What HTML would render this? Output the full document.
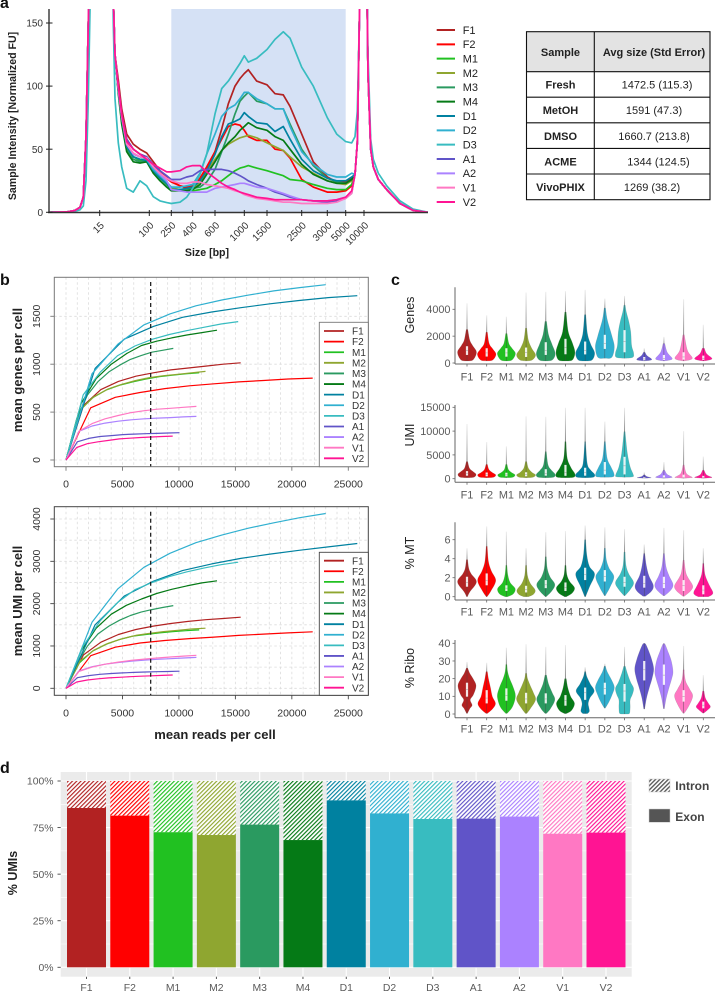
<!DOCTYPE html>
<html lang="en">
<head>
<meta charset="utf-8">
<title>Sample quality panels</title>
<style>
html,body{margin:0;padding:0;background:#fff;}
svg{display:block;position:absolute;left:0;top:0;font-family:"Liberation Sans",Arial,sans-serif;}
</style>
</head>
<body>
<svg id="figure" xmlns="http://www.w3.org/2000/svg" width="715" height="992" viewBox="0 0 715 992">
  <defs id="defs">
    <clipPath id="clip-a"><rect x="49" y="9" width="379" height="204"></rect></clipPath>
    <linearGradient id="tail-fade" x1="0" y1="1" x2="0" y2="0">
      <stop offset="0" stop-color="#858585"></stop>
      <stop offset="0.5" stop-color="#bdbdbd"></stop>
      <stop offset="1" stop-color="#ececec"></stop>
    </linearGradient>
  </defs>
  <text x="0" y="8" font-size="16" font-weight="bold" fill="#111">a</text>
  <text x="0" y="285" font-size="16" font-weight="bold" fill="#111">b</text>
  <text x="391" y="285" font-size="16" font-weight="bold" fill="#111">c</text>
  <text x="0" y="773" font-size="16" font-weight="bold" fill="#111">d</text>

  <g font-size="11" fill="#222">
    <rect x="526.5" y="31.7" width="183.5" height="40" fill="#e3e3e3"></rect>
    <rect x="526.5" y="31.7" width="183.5" height="168" fill="none" stroke="#111" stroke-width="1.1"></rect>
    <line x1="594.3" y1="31.7" x2="594.3" y2="199.7" stroke="#111" stroke-width="1.1"></line>
    <line x1="526.5" y1="71.7" x2="710" y2="71.7" stroke="#111" stroke-width="1.1"></line>
    <line x1="526.5" y1="97.2" x2="710" y2="97.2" stroke="#111" stroke-width="1.1"></line>
    <line x1="526.5" y1="122.8" x2="710" y2="122.8" stroke="#111" stroke-width="1.1"></line>
    <line x1="526.5" y1="148.4" x2="710" y2="148.4" stroke="#111" stroke-width="1.1"></line>
    <line x1="526.5" y1="174" x2="710" y2="174" stroke="#111" stroke-width="1.1"></line>
    <text x="560.5" y="56" text-anchor="middle" font-weight="bold">Sample</text>
    <text x="654" y="56" text-anchor="middle" font-weight="bold">Avg size (Std Error)</text>
    <text x="560.5" y="88.5" text-anchor="middle" font-weight="bold">Fresh</text>
    <text x="657" y="88.5" text-anchor="middle">1472.5 (115.3)</text>
    <text x="560.5" y="114" text-anchor="middle" font-weight="bold">MetOH</text>
    <text x="654" y="114" text-anchor="middle">1591 (47.3)</text>
    <text x="560.5" y="140" text-anchor="middle" font-weight="bold">DMSO</text>
    <text x="654" y="140" text-anchor="middle">1660.7 (213.8)</text>
    <text x="560.5" y="165.5" text-anchor="middle" font-weight="bold">ACME</text>
    <text x="658.5" y="165.5" text-anchor="middle">1344 (124.5)</text>
    <text x="560.5" y="191" text-anchor="middle" font-weight="bold">VivoPHIX</text>
    <text x="652" y="191" text-anchor="middle">1269 (38.2)</text>
  </g>
</svg>
<script>
/* ---------- shared categories ---------- */
const sampleNames = ['F1','F2','M1','M2','M3','M4','D1','D2','D3','A1','A2','V1','V2'];
const sampleColors = ['#b22222','#ff0000','#21c121','#8fa630','#2a9a60','#057a16','#0081a0','#30b0d0','#38bcc0','#6054c8','#ab82ff','#ff78c3','#ff1493'];

/* ---------- panel a: electropherogram (migration time vs normalized FU) ---------- */
const traceLeftTimes = [0,17.7,26,31,34.3,37,39.3,41.7,62.7,64.3,66];
const traceMidTimes = [69.3,72.7,77.7,84.3,91,97.7,104.3,111,117.7,122.3,131,137.7,143.7,151,157.7,166,172.7,179.3,186,191,195.3,199.3,207.7,218,226,234.3,241,252.7,264.3,278.3,287.7,296.7,302.7];
const traceRightTimes = [306,308.3,310.3,312.7,317,319,321.7,324.3,329.3,337.7,351,364,379];
const lowerMarker = [0,0.3,1.5,4,12,60,150,240,240,170,125];
const lowerMarkerD3 = [0,0.2,0.8,2,5,25,90,190,240,150,90];
const upperMarker = [30,55,150,240,240,110,50,36,26,18,7,1.5,0];
const upperMarkerD3 = [60,80,150,240,240,125,58,42,31,21,9,2.5,0];
const traceF1 = [105,82,62,54,50,47,40,33,28,25,21,19,20,26,34,48,66,86,100,106,110,113,104,101,94,93,84,62,40,28,24,24,27];
const traceF2 = [100,78,58,50,46,44,37,31,27,24,21,20,21,27,36,48,58,68,70,69,65,60,57,57,50,49,43,26,20,16,16,17,21];
const traceM1 = [96,74,52,44,41,40,33,27,22,19,18,17,17,18,19,22,25,29,33,35,36,37,35,33,31,29,26,25,22,19,18,18,22];
const traceM2 = [96,74,52,44,42,41,34,28,23,19,18,18,19,24,32,42,49,54,57,59,60,61,59,55,52,49,44,36,31,25,23,22,25];
const traceM3 = [96,72,50,42,40,40,33,27,22,18,18,18,19,20,24,34,48,62,78,88,92,95,88,86,82,82,70,50,37,27,24,23,26];
const traceM4 = [94,70,48,40,39,40,31,25,20,17,17,17,18,22,30,40,49,55,60,65,68,71,67,65,60,57,50,38,30,25,23,23,26];
const traceD1 = [96,74,52,44,42,41,33,27,23,18,18,19,20,25,33,46,60,70,72,74,79,76,71,70,64,68,58,42,33,27,25,25,28];
const traceD2 = [98,76,54,46,44,42,34,29,24,20,20,21,22,31,46,62,76,82,85,90,95,95,90,86,82,82,68,48,38,30,28,28,31];
const traceD3 = [55,36,19,16,25,21,12.4,9,7.7,7,8,12,19,30,46,78,98,104,112,118,124,119,122,129,137,143,138,115,100,75,62,56,55];
const traceA1 = [100,78,58,50,46,44,38,33,29,26,26,28,29,33,34,34,34,33,31,29,27,25,22,19,16,14,12,10,9,8,9,11,15];
const traceA2 = [98,76,54,46,44,43,36,30,25,18,17,16,16,16,16,19,20,21,22,23,23,22,20,19,17,15,13,10,9,9,10,12,16];
const traceV1 = [98,76,54,47,44,43,36,31,27,25,23,23,24,24,22,21,20,19,17,16,14,13,11,10,9,8,8,7,7,7,8,11,15];
const traceV2 = [100,78,56,50,46,42,38,35,32,32,33,36,37,37,32,27,23,20,18,16,15,14,12,11,10,10,10,10,9,9,10,12,17];
const traceSeries = [traceF1,traceF2,traceM1,traceM2,traceM3,traceM4,traceD1,traceD2,traceD3,traceA1,traceA2,traceV1,traceV2];
const sizeTickLabels = ['15','100','250','400','600','1000','1500','2500','3000','5000','10000'];
const sizeTickTimes = [50.7,100.3,122.3,143.7,166,195.3,218,252.7,278.3,296.7,315];
const intensityTicks = [0,50,100,150];
const regionStartTime = 122.3;
const regionEndTime = 296.7;

/* ---------- panel b: saturation curves ---------- */
const readFractions = [0,0.1,0.2,0.3,0.4,0.5,0.6,0.7,0.8,0.9,1];
const maxReads = [15470,21850,11800,12350,9500,13370,25800,23000,15250,10050,11550,11550,9450];
const genesCurves = [
 [0,570,735,820,875,910,940,960,980,1000,1015],
 [0,545,655,705,745,775,795,815,830,845,855],
 [0,510,650,730,780,815,845,870,885,900,910],
 [0,520,660,740,790,830,860,880,895,910,925],
 [0,430,680,820,920,990,1050,1090,1125,1145,1165],
 [0,590,850,1000,1110,1195,1240,1275,1305,1330,1355],
 [0,956,1262,1395,1490,1545,1590,1630,1665,1695,1715],
 [0,900,1210,1410,1525,1610,1670,1720,1765,1800,1830],
 [0,680,920,1090,1190,1260,1310,1350,1385,1420,1445],
 [0,190,225,245,255,265,270,275,278,282,285],
 [0,300,355,385,405,420,430,437,443,450,455],
 [0,300,380,430,465,495,515,530,540,550,560],
 [0,130,170,190,205,220,228,235,240,245,250]
];
const umiCurves = [
 [0,790,1090,1270,1390,1470,1530,1580,1620,1650,1680],
 [0,770,970,1070,1130,1175,1210,1250,1280,1310,1335],
 [0,600,880,1040,1150,1230,1270,1310,1340,1360,1380],
 [0,640,900,1060,1170,1250,1300,1340,1370,1400,1420],
 [0,560,1000,1290,1470,1610,1720,1800,1860,1910,1955],
 [0,880,1420,1750,1960,2110,2240,2340,2420,2490,2540],
 [0,1500,2180,2530,2780,2940,3070,3170,3260,3340,3420],
 [0,1560,2350,2860,3190,3440,3620,3780,3910,4030,4130],
 [0,1000,1600,2030,2330,2500,2640,2750,2840,2920,2980],
 [0,250,300,330,350,365,375,385,392,398,405],
 [0,410,510,570,610,640,665,685,700,715,730],
 [0,400,500,570,620,660,690,715,740,760,780],
 [0,150,195,225,245,260,275,285,295,305,315]
];
const readsTicks = [0,5000,10000,15000,20000,25000];
const genesTicks = [0,500,1000,1500];
const umiTicks = [0,1000,2000,3000,4000];
const targetReads = 7500;

/* ---------- panel c: violins, body = [value, density] levels ---------- */
const genesBody = [
 [[150,0],[230,.6],[800,1],[1300,.55],[1700,.25],[2500,.06]],
 [[150,0],[220,.6],[650,.98],[1050,.6],[1450,.22],[2300,.05]],
 [[150,0],[220,.55],[700,.95],[1100,.55],[1450,.22],[2200,.05]],
 [[150,0],[220,.6],[600,1],[1100,.55],[1700,.2],[2600,.05]],
 [[150,0],[220,.65],[700,1],[1400,.62],[2100,.25],[3100,.06]],
 [[150,0],[220,.7],[800,1],[1500,.7],[2350,.25],[3800,.05]],
 [[150,0],[220,.7],[750,1],[1400,.55],[2200,.2],[3600,.05]],
 [[350,0],[420,.7],[1200,1],[2000,.72],[3200,.22],[4100,.05]],
 [[350,0],[420,.85],[750,.95],[1300,.72],[2300,.62],[3100,.4],[3800,.15],[4300,.05]],
 [[150,0],[200,.6],[300,.75],[550,.25],[800,.06]],
 [[150,0],[220,.6],[350,.85],[800,.3],[1450,.06]],
 [[150,0],[230,.6],[400,.9],[950,.35],[2100,.05]],
 [[150,0],[220,.6],[350,.9],[700,.3],[1100,.08]]
];
const genesTop = [4450,3550,3450,5250,5300,5350,5450,4800,5000,1100,1950,4750,2850];
const genesBox = [[600,950,1250],[480,750,1100],[470,750,1100],[450,800,1150],[600,950,1550],[650,1150,1800],[640,950,1600],[1050,1450,2100],[800,1600,2450],[200,300,450],[230,350,600],[250,450,800],[230,350,550]];

const umiBody = [
 [[200,0],[300,.7],[900,.95],[1500,.6],[2200,.22],[3600,.05]],
 [[200,0],[300,.7],[800,.95],[1300,.55],[1900,.2],[3000,.05]],
 [[200,0],[300,.65],[800,.9],[1300,.5],[1900,.18],[3000,.05]],
 [[200,0],[300,.7],[800,1],[1300,.6],[2200,.2],[3600,.05]],
 [[200,0],[300,.8],[900,1],[1800,.55],[2900,.2],[5700,.04]],
 [[200,0],[300,.85],[1000,1],[2300,.55],[4300,.15],[7800,.04]],
 [[200,0],[300,.85],[900,1],[1900,.5],[3200,.18],[7800,.03]],
 [[300,0],[400,.85],[1100,.95],[2500,.6],[4300,.2],[7800,.04]],
 [[300,0],[400,.85],[900,.9],[2500,.55],[5400,.25],[9900,.04]],
 [[100,0],[150,.4],[200,.7],[500,.2],[800,.05]],
 [[100,0],[180,.6],[350,.85],[900,.3],[1800,.05]],
 [[100,0],[180,.6],[300,.9],[1100,.25],[2900,.04]],
 [[100,0],[180,.6],[300,.9],[800,.3],[1800,.05]]
];
const umiTop = [11500,7700,6800,13100,13000,14900,14900,12000,14900,1350,3500,10000,4650];
const umiBox = [[630,1100,1600],[500,850,1300],[500,800,1250],[500,900,1350],[630,1100,2000],[600,1300,2900],[630,1300,2300],[900,1800,3500],[900,2700,4600],[100,200,350],[150,300,700],[150,300,850],[130,250,600]];

const mtBody = [
 [[0,.03],[.5,.25],[1.55,1],[2.4,.4],[3,.15],[3.9,.05]],
 [[0,.03],[.6,.4],[1.7,.95],[2.7,.45],[3.7,.15],[5.3,.04]],
 [[0,.1],[.3,.7],[.85,.92],[1.5,.35],[2.3,.12],[3.3,.04]],
 [[0,.2],[.25,.75],[.7,.95],[1.4,.4],[2.2,.12],[3.3,.04]],
 [[0,.03],[.6,.6],[1.3,.95],[2.1,.4],[3,.12],[4.2,.04]],
 [[0,.08],[.4,.7],[.95,.95],[1.6,.4],[2.3,.12],[3.3,.04]],
 [[0,.03],[1,.4],[2.35,1],[3.2,.4],[4.4,.14],[6,.04]],
 [[.1,.03],[1,.5],[2.1,.95],[3,.4],[3.9,.12],[5.1,.04]],
 [[.1,.03],[.8,.6],[1.5,.95],[2.4,.4],[3.3,.12],[4.7,.04]],
 [[.05,.1],[.6,.75],[1.2,.95],[2.2,.45],[3.3,.18],[4.55,.04]],
 [[.1,.05],[.7,.7],[1.3,.95],[2.2,.5],[3.15,.18],[4.55,.04]],
 [[.05,.05],[.6,.7],[1.15,.95],[2,.42],[2.6,.18],[3.85,.04]],
 [[0,.5],[.2,.9],[.5,1],[1.2,.6],[2.3,.15],[3.5,.04]]
];
const mtTop = [5.1,7.4,6.85,5.1,6.8,6.9,7.5,7.3,7.1,5.5,7.25,7,5.1];
const mtBox = [[1.05,1.5,2.1],[1.2,1.7,2.45],[.6,.9,1.2],[.45,.75,1.15],[.9,1.25,1.75],[.6,.95,1.5],[1.75,2.35,3.05],[1.6,2.1,2.8],[1.05,1.5,2.1],[.95,1.4,2.2],[.9,1.4,2.1],[.6,1.15,1.75],[.25,.7,1.2]];

const riboBody = [
 [[.3,.03],[3,.25],[5,.5],[8,.3],[11,.65],[16,.95],[20,.6],[23,.25],[26,.05]],
 [[.3,.05],[3,.6],[6,.92],[10,.55],[15,.35],[20,.15],[24,.05]],
 [[.3,.05],[4,.6],[10,.95],[15,.7],[20,.3],[24,.1],[28,.04]],
 [[.3,.05],[3,.4],[8,1],[12,.75],[16,.4],[20,.12],[23,.05]],
 [[.3,.05],[3,.45],[8,.95],[12,.65],[17,.25],[22,.06]],
 [[.2,.05],[2,.6],[6,.95],[10,.5],[15,.2],[20,.06]],
 [[.2,.2],[1.5,.4],[3.5,.35],[6,.28],[9,.45],[13,.95],[17,.5],[21,.15],[24,.04]],
 [[3.3,.03],[7,.4],[11,.75],[15,1],[19,.7],[24,.2],[27,.05]],
 [[0,.3],[.6,.5],[4,.55],[8,.55],[11,.8],[14.5,.95],[18,.6],[23,.25],[27,.06]],
 [[2.8,.03],[9,.2],[15,.5],[20,.8],[25.5,1],[31,.75],[36,.4],[39.5,.12],[40,0]],
 [[3,.03],[9,.2],[15,.5],[20,.8],[24,.95],[30,.75],[35,.4],[39,.12],[40,0]],
 [[.4,.04],[4,.45],[10,.95],[14,.6],[18,.2],[22,.07],[25,.04]],
 [[.5,.03],[2,.35],[4,.72],[6,.5],[9,.18],[13,.05]]
];
const riboTop = [29.5,29,37.5,39.5,38,39,26.5,28.5,38,40,40,38.5,22];
const riboBox = [[9.8,14,17.7],[6,9,13.5],[7.5,10.5,14.5],[6,8.5,12],[6,8.5,11.7],[4.7,7.5,10.7],[8,12,15],[11,14.5,17.7],[7,13,17],[19,25,30],[16.5,22,28],[7,10,13.5],[3.2,5,7]];

const genesAxisTicks = [0,2000,4000];
const umiAxisTicks = [0,5000,10000,15000];
const mtAxisTicks = [0,2,4,6];
const riboAxisTicks = [0,10,20,30,40];

/* ---------- panel d: stacked bars ---------- */
const exonPercent = [85.5,81.4,72.5,71,76.6,68.3,89.6,82.6,79.6,79.8,80.9,71.7,72.3];
const percentTicks = [0,25,50,75,100];

/* ---------- helpers ---------- */
const NS = 'http://www.w3.org/2000/svg';
const figure = document.getElementById('figure');
const defs = document.getElementById('defs');

function mk(parent, tag, attrs) {
  const el = document.createElementNS(NS, tag);
  for (const k in attrs) el.setAttribute(k, attrs[k]);
  parent.appendChild(el);
  return el;
}
function tag(el, label) {
  
  
  return el;
}
function group(parent, label) {
  return tag(mk(parent, 'g', {}), label);
}
function txt(parent, str, x, y, opt, label) {
  const a = {x: x, y: y, 'font-size': opt.size, fill: opt.fill || '#333', 'text-anchor': opt.anchor || 'start'};
  if (opt.weight) a['font-weight'] = opt.weight;
  if (opt.rotate !== undefined) a.transform = 'rotate(' + opt.rotate + ' ' + x + ' ' + y + ')';
  const el = mk(parent, 'text', a);
  el.textContent = str;
  return tag(el, label);
}
function seg(parent, x1, y1, x2, y2, stroke, width, label, dash) {
  const a = {x1: x1, y1: y1, x2: x2, y2: y2, stroke: stroke, 'stroke-width': width};
  if (dash) a['stroke-dasharray'] = dash;
  return tag(mk(parent, 'line', a), label);
}
function linear(d0, r0, d1, r1) {
  return function (v) { return r0 + (v - d0) * (r1 - r0) / (d1 - d0); };
}

/* ---------- panel a ---------- */
(function () {
  const g = group(figure, 'panel-a-electropherogram');
  const xTime = linear(0, 49, 379, 428);
  const yFU = linear(0, 212.3, 150, 23);
  tag(mk(g, 'rect', {x: xTime(regionStartTime), y: 9, width: xTime(regionEndTime) - xTime(regionStartTime), height: 203.5, fill: '#d5e1f5'}), 'size-range-highlight');
  const lines = group(g, 'traces');
  lines.setAttribute('clip-path', 'url(#clip-a)');
  const times = traceLeftTimes.concat(traceMidTimes, traceRightTimes);
  traceSeries.forEach(function (mid, i) {
    const isD3 = sampleNames[i] === 'D3';
    const vals = (isD3 ? lowerMarkerD3 : lowerMarker).concat(mid, isD3 ? upperMarkerD3 : upperMarker);
    const pts = times.map(function (t, k) { return xTime(t).toFixed(1) + ',' + yFU(vals[k]).toFixed(1); }).join(' ');
    const line = mk(lines, 'polyline', {points: pts, fill: 'none', stroke: sampleColors[i], 'stroke-width': 1.7, 'stroke-linejoin': 'round'});
    
    
  });
  seg(g, 49, 9, 49, 213, '#333', 1.4, 'y-axis-line');
  seg(g, 48, 212.5, 428, 212.5, '#333', 1.6, 'x-axis-line');
  intensityTicks.forEach(function (v) {
    seg(g, 46, yFU(v), 52.5, yFU(v), '#222', 1, 'y-tick');
    txt(g, String(v), 43, yFU(v) + 3.6, {size: 10, anchor: 'end', fill: '#333'}, 'y-tick-label');
  });
  sizeTickLabels.forEach(function (lab, i) {
    const x = xTime(sizeTickTimes[i]);
    seg(g, x, 210, x, 216, '#222', 1, 'x-tick');
    txt(g, lab, x + 5, 226, {size: 10, anchor: 'end', rotate: -45, fill: '#333'}, 'x-tick-label');
  });
  txt(g, 'Sample Intensity [Normalized FU]', 16, 116, {size: 10.6, anchor: 'middle', rotate: -90, weight: 'bold', fill: '#222'}, 'y-axis-title');
  txt(g, 'Size [bp]', 207, 256, {size: 10.6, anchor: 'middle', weight: 'bold', fill: '#222'}, 'x-axis-title');
  const leg = group(g, 'legend-a');
  const yLegend = linear(0, 30, 12, 202);
  sampleNames.forEach(function (n, i) {
    const y = yLegend(i);
    const e = group(leg, 'legend-entry-' + n);
    seg(e, 436.7, y, 455, y, sampleColors[i], 2, 'legend-line');
    txt(e, n, 462.7, y + 3.9, {size: 11, fill: '#222'}, 'legend-label');
  });
})();

/* ---------- panel b ---------- */
function saturationPanel(cfg) {
  const g = group(figure, cfg.name);
  const xReads = linear(0, 66, 25000, 348.3);
  const yVal = cfg.y;
  const L = 54.3, R = 368.3;
  for (let r = 0; r <= 27000; r += 1000) {
    if (xReads(r) < R) seg(g, xReads(r), cfg.top, xReads(r), cfg.bottom, '#dcdcdc', 0.8, 'vertical-gridline', '2.5 2.5');
  }
  cfg.grid.forEach(function (v) {
    seg(g, L, yVal(v), R, yVal(v), '#dcdcdc', 0.8, 'horizontal-gridline', '2.5 2.5');
  });
  cfg.curves.forEach(function (curve, i) {
    const pts = curve.map(function (v, k) {
      return xReads(readFractions[k] * maxReads[i]).toFixed(1) + ',' + yVal(v).toFixed(1);
    }).join(' ');
    const line = mk(g, 'polyline', {points: pts, fill: 'none', stroke: sampleColors[i], 'stroke-width': 1.2, 'stroke-linejoin': 'round'});
    
    
  });
  seg(g, xReads(targetReads), cfg.dashTop, xReads(targetReads), cfg.bottom, '#111', 1.2, 'target-depth-line', '4 3');
  tag(mk(g, 'rect', {x: L, y: cfg.top, width: R - L, height: cfg.bottom - cfg.top, fill: 'none', stroke: cfg.frame, 'stroke-width': 1}), 'plot-frame');
  readsTicks.forEach(function (v) {
    seg(g, xReads(v), cfg.bottom, xReads(v), cfg.bottom + 4, cfg.frame, 0.9, 'x-tick');
    txt(g, String(v), xReads(v), cfg.bottom + 21, {size: 10.5, anchor: 'middle'}, 'x-tick-label');
  });
  cfg.ticks.forEach(function (v) {
    seg(g, L - 4, yVal(v), L, yVal(v), cfg.frame, 0.9, 'y-tick');
    txt(g, String(v), 40, yVal(v), {size: 10.5, anchor: 'middle', rotate: -90}, 'y-tick-label');
  });
  txt(g, cfg.title, 22, cfg.titleY, {size: 13, anchor: 'middle', rotate: -90, weight: 'bold', fill: '#222'}, 'y-axis-title');
  const leg = group(g, 'legend-b');
  tag(mk(leg, 'rect', {x: 319.3, y: cfg.legendTop, width: R - 319.3, height: cfg.bottom - cfg.legendTop, fill: '#fff', stroke: cfg.frame, 'stroke-width': 0.9}), 'legend-box');
  const yLegend = linear(0, cfg.legendFirst, 12, cfg.legendLast);
  sampleNames.forEach(function (n, i) {
    const y = yLegend(i);
    const e = group(leg, 'legend-entry-' + n);
    seg(e, 324, y, 344, y, sampleColors[i], 1.8, 'legend-line');
    txt(e, n, 352, y + 3.6, {size: 10, fill: '#333'}, 'legend-label');
  });
}
saturationPanel({name: 'panel-b-genes', curves: genesCurves, y: linear(0, 460, 1500, 316.3), ticks: genesTicks, grid: genesTicks,
  top: 277.3, bottom: 466.7, dashTop: 282, frame: '#777', title: 'mean genes per cell', titleY: 370,
  legendTop: 322.3, legendFirst: 331, legendLast: 458.3});
saturationPanel({name: 'panel-b-umi', curves: umiCurves, y: linear(0, 688.3, 4000, 519), ticks: umiTicks, grid: [0,500,1000,1500,2000,2500,3000,3500,4000],
  top: 506.7, bottom: 695.3, dashTop: 511.7, frame: '#444', title: 'mean UMI per cell', titleY: 601,
  legendTop: 552.3, legendFirst: 560.7, legendLast: 687.7});
txt(figure, 'mean reads per cell', 215, 739, {size: 13, anchor: 'middle', weight: 'bold', fill: '#222'}, 'x-axis-title');

/* ---------- panel c ---------- */
function smoothSide(pts) {
  let d = '';
  for (let i = 0; i < pts.length - 1; i++) {
    const p0 = pts[Math.max(i - 1, 0)], p1 = pts[i], p2 = pts[i + 1], p3 = pts[Math.min(i + 2, pts.length - 1)];
    const c1x = p1[0] + (p2[0] - p0[0]) / 6, c1y = p1[1] + (p2[1] - p0[1]) / 6;
    const c2x = p2[0] - (p3[0] - p1[0]) / 6, c2y = p2[1] - (p3[1] - p1[1]) / 6;
    d += 'C' + c1x.toFixed(2) + ' ' + c1y.toFixed(2) + ' ' + c2x.toFixed(2) + ' ' + c2y.toFixed(2) + ' ' + p2[0].toFixed(2) + ' ' + p2[1].toFixed(2);
  }
  return d;
}
function violinRow(cfg) {
  const g = group(figure, cfg.name);
  const xCat = linear(0, 467, 12, 703.3);
  const yVal = cfg.y;
  const halfWidth = function (density) { return 9.5 * Math.pow(Math.max(density, 0), 0.88); };
  sampleNames.forEach(function (n, i) {
    const v = group(g, 'violin-' + n);
    const cx = xCat(i);
    const body = cfg.body[i];
    const neck = body[body.length - 1][0];
    const top = cfg.top[i];
    if (top > neck) {
      tag(mk(v, 'rect', {x: cx - 0.5, y: yVal(top), width: 1, height: yVal(neck) - yVal(top) + 1, fill: 'url(#tail-fade)'}), 'violin-tail');
    }
    const right = body.map(function (b) { return [cx + halfWidth(b[1]), yVal(b[0])]; });
    const left = body.map(function (b) { return [cx - halfWidth(b[1]), yVal(b[0])]; }).reverse();
    const d = 'M' + right[0][0].toFixed(2) + ' ' + right[0][1].toFixed(2) + smoothSide(right) +
      'L' + left[0][0].toFixed(2) + ' ' + left[0][1].toFixed(2) + smoothSide(left) + 'Z';
    tag(mk(v, 'path', {d: d, fill: sampleColors[i], stroke: '#777', 'stroke-width': 0.3, 'stroke-opacity': 0.6}), 'violin-body');
    seg(v, cx, yVal(neck), cx, yVal(body[0][0]), '#444', 0.4, 'violin-center-line');
    const box = cfg.box[i];
    tag(mk(v, 'rect', {x: cx - 1.1, y: yVal(box[2]), width: 2.2, height: yVal(box[0]) - yVal(box[2]), fill: '#fff', 'fill-opacity': 0.88}), 'violin-box');
    seg(v, cx - 1.1, yVal(box[1]), cx + 1.1, yVal(box[1]), '#999', 0.5, 'violin-median');
  });
  seg(g, 455, cfg.axisTop, 455, cfg.axisBottom, '#666', 1, 'y-axis-line');
  seg(g, 455, cfg.axisBottom, 715, cfg.axisBottom, '#666', 1, 'x-axis-line');
  cfg.ticks.forEach(function (v) {
    seg(g, 452.5, yVal(v), 455, yVal(v), '#666', 0.8, 'y-tick');
    txt(g, String(v), 450.5, yVal(v) + 3.9, {size: 10.9, anchor: 'end', fill: '#5a5a5a'}, 'y-tick-label');
  });
  sampleNames.forEach(function (n, i) {
    seg(g, xCat(i), cfg.axisBottom, xCat(i), cfg.axisBottom + 2.5, '#666', 0.8, 'x-tick');
    txt(g, n, xCat(i), cfg.labelBase, {size: 10.9, anchor: 'middle', fill: '#5a5a5a'}, 'x-tick-label');
  });
  txt(g, cfg.title, 414, cfg.titleY, {size: 12.5, anchor: 'middle', rotate: -90, fill: '#222'}, 'y-axis-title');
}
violinRow({name: 'panel-c-genes', body: genesBody, top: genesTop, box: genesBox, y: linear(0, 363, 4000, 309.3), ticks: genesAxisTicks,
  axisTop: 287.3, axisBottom: 364, labelBase: 380.5, title: 'Genes', titleY: 315});
violinRow({name: 'panel-c-umi', body: umiBody, top: umiTop, box: umiBox, y: linear(0, 478.7, 15000, 407.3), ticks: umiAxisTicks,
  axisTop: 405, axisBottom: 482.3, labelBase: 498.5, title: 'UMI', titleY: 435});
violinRow({name: 'panel-c-mt', body: mtBody, top: mtTop, box: mtBox, y: linear(0, 596.7, 6, 539.7), ticks: mtAxisTicks,
  axisTop: 522.3, axisBottom: 600, labelBase: 615.5, title: '% MT', titleY: 553});
violinRow({name: 'panel-c-ribo', body: riboBody, top: riboTop, box: riboBox, y: linear(0, 714, 40, 643.3), ticks: riboAxisTicks,
  axisTop: 640, axisBottom: 717.7, labelBase: 732.7, title: '% Ribo', titleY: 668});

/* ---------- panel d ---------- */
(function () {
  const g = group(figure, 'panel-d-exon-intron');
  const xBar = linear(0, 86.5, 12, 606);
  const yPct = linear(0, 967.3, 100, 781);
  const barW = 39;
  tag(mk(g, 'rect', {x: 60.7, y: 772, width: 571, height: 204.7, fill: '#ebebeb'}), 'plot-panel-background');
  for (let p = -12.5; p <= 112.5; p += 12.5) {
    const major = p % 25 === 0;
    if (yPct(p) > 772 && yPct(p) < 976.7) {
      seg(g, 60.7, yPct(p), 631.7, yPct(p), '#fff', major ? 1.1 : 0.55, 'gridline-horizontal');
    }
  }
  sampleNames.forEach(function (n, i) {
    seg(g, xBar(i), 772, xBar(i), 976.7, '#fff', 1.1, 'gridline-vertical');
    const pat = mk(defs, 'pattern', {id: 'hatch-' + n, width: 3, height: 3, patternUnits: 'userSpaceOnUse', patternTransform: 'rotate(45)'});
    mk(pat, 'rect', {width: 3, height: 3, fill: '#fff'});
    mk(pat, 'rect', {width: 1.15, height: 3, fill: sampleColors[i]});
  });
  sampleNames.forEach(function (n, i) {
    const x = xBar(i) - barW / 2;
    const b = group(g, 'bar-' + n);
    tag(mk(b, 'rect', {x: x, y: yPct(100), width: barW, height: yPct(exonPercent[i]) - yPct(100), fill: 'url(#hatch-' + n + ')'}), 'intron-segment');
    tag(mk(b, 'rect', {x: x, y: yPct(exonPercent[i]), width: barW, height: yPct(0) - yPct(exonPercent[i]), fill: sampleColors[i]}), 'exon-segment');
    seg(g, xBar(i), 976.7, xBar(i), 979, '#444', 0.9, 'x-tick');
    txt(g, n, xBar(i), 991, {size: 10.4, anchor: 'middle', fill: '#5a5a5a'}, 'x-tick-label');
  });
  percentTicks.forEach(function (p) {
    seg(g, 57.5, yPct(p), 60.7, yPct(p), '#444', 0.9, 'y-tick');
    txt(g, p + '%', 53.5, yPct(p) + 3.7, {size: 10.4, anchor: 'end', fill: '#5a5a5a'}, 'y-tick-label');
  });
  txt(g, '% UMIs', 17, 873, {size: 12.5, anchor: 'middle', rotate: -90, weight: 'bold', fill: '#222'}, 'y-axis-title');
  const pat = mk(defs, 'pattern', {id: 'hatch-legend', width: 3, height: 3, patternUnits: 'userSpaceOnUse', patternTransform: 'rotate(45)'});
  mk(pat, 'rect', {width: 3, height: 3, fill: '#fff'});
  mk(pat, 'rect', {width: 1.35, height: 3, fill: '#555'});
  const leg = group(g, 'legend-d');
  const e1 = group(leg, 'legend-entry-intron');
  tag(mk(e1, 'rect', {x: 649, y: 779, width: 21, height: 13, fill: 'url(#hatch-legend)', stroke: '#ccc', 'stroke-width': 0.5}), 'intron-swatch');
  txt(e1, 'Intron', 675.3, 790, {size: 12, weight: 'bold', fill: '#444'}, 'intron-label');
  const e2 = group(leg, 'legend-entry-exon');
  tag(mk(e2, 'rect', {x: 649, y: 809, width: 21, height: 13.3, fill: '#555', stroke: '#ccc', 'stroke-width': 0.5}), 'exon-swatch');
  txt(e2, 'Exon', 675.3, 821, {size: 12, weight: 'bold', fill: '#444'}, 'exon-label');
})();
</script>
</body>
</html>
